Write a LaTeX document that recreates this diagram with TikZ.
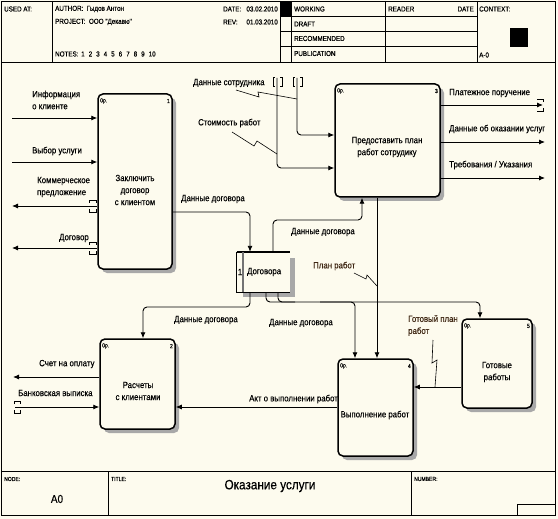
\documentclass[tikz,border=0pt]{standalone}
\usepackage{fontspec}
\setmainfont{Liberation Sans}
\newfontfamily\narfont[FakeStretch=0.87,FakeBold=0.35]{Liberation Sans}
\usetikzlibrary{arrows.meta}
\definecolor{bg}{HTML}{FDFBEE}
\definecolor{lbl}{HTML}{3E2612}
\definecolor{shd}{HTML}{A8A8A8}
\tikzset{
  lab/.style={font=\narfont\fontsize{9}{12}\selectfont, inner sep=0pt, anchor=west, align=left},
  boxtext/.style={font=\narfont\fontsize{9}{12}\selectfont, inner sep=0pt, align=center},
  hdr/.style={font=\narfont\fontsize{7.2}{8}\selectfont, inner sep=0pt, anchor=west},
  tinytxt/.style={font=\narfont\fontsize{5.8}{6}\selectfont, inner sep=0pt, anchor=west},
  func/.style={draw, line width=1.5pt, rounded corners=5pt, fill=bg, inner sep=0pt},
  shadow/.style={fill=shd, rounded corners=5pt},
  arr/.style={line width=0.9pt, -{Latex[length=6pt,width=5pt]}, rounded corners=4pt},
  ln/.style={line width=0.9pt, rounded corners=4pt},
  sq/.style={line width=0.6pt},
  frame/.style={line width=0.8pt},
  tun/.style={line width=0.6pt},
}
\begin{document}
\begin{tikzpicture}[x=1pt,y=-1pt]
\useasboundingbox (0,0) rectangle (558,519);
\fill[bg] (0,0) rectangle (558,519);
% ---------- frame ----------
\draw[frame] (1,1) rectangle (555,515);
% header
\draw[frame] (52,1) -- (52,62);
\draw[frame] (280,1) -- (280,62);
\fill (280,1) rectangle (291,16);
\draw[frame] (291,1) -- (291,62);
\draw[frame] (385,1) -- (385,62);
\draw[frame] (477,1) -- (477,62);
\draw[frame] (280,16) -- (477,16);
\draw[frame] (280,31) -- (477,31);
\draw[frame] (280,46) -- (477,46);
\draw[frame] (1,62) -- (555,62);
\fill (510,28) rectangle (528,47);
\node[hdr] (usedat) at (4,9) {USED AT:};
\node[hdr] (author) at (55,9) {AUTHOR:\ \ Гыдов Антон};
\node[hdr] (project) at (55,22) {PROJECT:\ \ ООО "Декавю"};
\node[hdr] (date) at (223,9) {DATE:};
\node[hdr, anchor=east] (dateval) at (278,9) {03.02.2010};
\node[hdr] (rev) at (223,22) {REV:};
\node[hdr, anchor=east] (revval) at (278,22) {01.03.2010};
\node[hdr] (notes) at (55,54) {NOTES:};
\foreach \i in {1,...,10} {\node[hdr, anchor=west] (note\i) at ({81+7.5*(\i-1)},54) {\i};}
\node[hdr] (working) at (294,9) {WORKING};
\node[hdr] (draft) at (294,24) {DRAFT};
\node[hdr] (recom) at (294,38.5) {RECOMMENDED};
\node[hdr] (publ) at (294,53.5) {PUBLICATION};
\node[hdr] (reader) at (388,9) {READER};
\node[hdr, anchor=east] (rdate) at (474,9) {DATE};
\node[hdr] (context) at (479,9) {CONTEXT:};
\node[hdr] (aminus) at (479,55) {A-0};
% footer
\draw[frame] (1,471) -- (555,471);
\draw[frame] (108,471) -- (108,515);
\draw[frame] (411,471) -- (411,515);
\draw[frame] (517,504) rectangle (555,515);
\node[tinytxt] (nodelbl) at (4,479) {NODE:};
\node[font=\narfont\fontsize{11.5}{12}\selectfont, inner sep=0pt] (nodeval) at (57,499) {A0};
\node[tinytxt] (titlelbl) at (111,479) {TITLE:};
\node[font=\narfont\fontsize{13.5}{14}\selectfont, inner sep=0pt] (title) at (270,486) {Оказание услуги};
\node[tinytxt] (numlbl) at (414,479) {NUMBER:};
% ---------- boxes ----------
% box 1
\fill[shadow] (102,98) rectangle (176,273);
\node[func, minimum width=74pt, minimum height=175pt] (b1) at (135,181.5) {};
\node[tinytxt] (b1op) at (100,101) {0р.};
\node[tinytxt, anchor=east] (b1n) at (170,101) {1};
\node[boxtext] (b1t) at (135,190) {Заключить\\договор\\с клиентом};
% box 3
\fill[shadow] (339,88) rectangle (444,201);
\node[func, minimum width=105pt, minimum height=113pt] (b3) at (387.5,140.5) {};
\node[tinytxt] (b3op) at (337,91) {0р.};
\node[tinytxt, anchor=east] (b3n) at (438,91) {3};
\node[boxtext] (b3t) at (387,147) {Предоставить план\\работ сотрудику};
% box 2
\fill[shadow] (104,343) rectangle (179,433);
\node[func, minimum width=75pt, minimum height=90pt] (b2) at (137.5,384) {};
\node[tinytxt] (b2op) at (102,346) {0р.};
\node[tinytxt, anchor=east] (b2n) at (173,346) {2};
\node[boxtext] (b2t) at (138,391) {Расчеты\\с клиентами};
% box 4
\fill[shadow] (342,363) rectangle (417,460);
\node[func, minimum width=75pt, minimum height=97pt] (b4) at (375.5,407.5) {};
\node[tinytxt] (b4op) at (340,366) {0р.};
\node[tinytxt, anchor=east] (b4n) at (411,366) {4};
\node[boxtext] (b4t) at (375,415) {Выполнение работ};
% box 5
\fill[shadow] (466,323) rectangle (536,412);
\node[func, minimum width=70pt, minimum height=89pt] (b5) at (497,363.5) {};
\node[tinytxt] (b5op) at (464,326) {0р.};
\node[tinytxt, anchor=east] (b5n) at (530,326) {5};
\node[boxtext] (b5t) at (497,372) {Готовые\\работы};
% data store "Договора"
\fill[shd] (290,258) rectangle (295,297);
\fill[shd] (243,292) rectangle (295,297);
\node[inner sep=0pt, minimum width=53pt, minimum height=40pt] (dg) at (263.5,272) {};
\draw[line width=1.6pt] (dg.north west) -- (dg.north east);
\draw[line width=0.8pt] (dg.north west) -- (dg.south west) -- (dg.south east);
\draw[line width=1.6pt, black!55] ([xshift=6pt]dg.north west) -- ([xshift=6pt]dg.south west);
\node[boxtext] (dgn) at (240,272) {1};
\node[lab] (dgt) at (247,272) {Договора};
% ---------- connectors ----------
% box 1 left side
\coordinate (s1) at (12,118);
\draw[arr] (s1) -- (s1 -| b1.west);
\coordinate (s2) at (12,162);
\draw[arr] (s2) -- (s2 -| b1.west);
\coordinate (e1) at (12,206);
\draw[arr] (e1 -| b1.west) -- (e1);
\draw[tun] (89,203) -- (89,200) -- (96,200) -- (96,203);
\draw[tun] (89,209) -- (89,212) -- (96,212) -- (96,209);
\coordinate (e2) at (12,248);
\draw[arr] (e2 -| b1.west) -- (e2);
\draw[tun] (89,245) -- (89,242) -- (96,242) -- (96,245);
\draw[tun] (89,251) -- (89,254) -- (96,254) -- (96,251);
\node[lab] (l1) at (32,100) {Информация\\о клиенте};
\node[lab] (l2) at (32,151) {Выбор услуги};
\node[lab] (l3) at (37,187) {Коммерческое\\предложение};
\node[lab] (l4) at (59,238) {Договор};
% box 1 -> store
\draw[arr] (b1.east |- 0,212) -| (dg.north -| 250,0);
\node[lab] (l5) at (181,199) {Данные договора};
% store -> box 3
\draw[arr] (dg.north -| 273,0) |- (320,220) -| (b3.south -| 362,0);
\node[lab] (l6) at (291,232) {Данные договора};
% store -> box 2
\draw[arr] (dg.south -| 250,0) |- (200,307) -| (b2.north -| 143,0);
\node[lab] (l7) at (174,320) {Данные договора};
% store -> box 4, box 5
\draw[arr] (dg.south -| 266,0) |- (320,302) -| (b5.north -| 480,0);
\draw[arr] (320,302) -| (b4.north -| 355,0);
\draw[ln] (dg.south -| 278,0) |- (295,302);
\node[lab] (l8) at (269,323) {Данные договора};
% box 3 -> box 4
\draw[arr] (b3.south -| 377,0) -- (b4.north -| 377,0);
\node[lab, text=lbl] (l9) at (313,266) {План работ};
\draw[sq] (354,273) -- (366,279) -- (367,275) -- (377,286);
% box 3 inputs
\coordinate (t1) at (277,78);
\coordinate (t2) at (297,78);
\draw[arr] (t2) |- (b3.west |- 0,135);
\draw[arr] (t1) |- (b3.west |- 0,168);
\draw[tun] (275,77) -- (273,77) -- (273,86) -- (275,86);
\draw[tun] (280,77) -- (282,77) -- (282,86) -- (280,86);
\draw[tun] (295,77) -- (293,77) -- (293,86) -- (295,86);
\draw[tun] (300,77) -- (302,77) -- (302,86) -- (300,86);
\node[lab] (l10) at (193,83) {Данные сотрудника};
\draw[sq] (236,90) -- (259,97) -- (258,92) -- (297,99);
\node[lab] (l11) at (198,123) {Стоимость работ};
\draw[sq] (232,132) -- (254,146) -- (257,141) -- (277,154);
% box 3 outputs
\coordinate (o1) at (543,105);
\draw[arr] (b3.east |- o1) -- (o1);
\draw[tun] (537,99) -- (543,99) -- (543,102);
\draw[tun] (537,111) -- (543,111) -- (543,108);
\coordinate (o2) at (545,142);
\draw[arr] (b3.east |- o2) -- (o2);
\coordinate (o3) at (545,178);
\draw[arr] (b3.east |- o3) -- (o3);
\node[lab] (l12) at (449,93) {Платежное поручение};
\node[lab] (l13) at (449,129) {Данные об оказании услуг};
\node[lab] (l14) at (449,165) {Требования / Указания};
% box 2 left side
\coordinate (e3) at (13,377);
\draw[arr] (b2.west |- e3) -- (e3);
\coordinate (s3) at (15,407);
\draw[arr] (s3) -- (s3 -| b2.west);
\draw[tun] (14,404) -- (14,401) -- (20,401) -- (20,404);
\draw[tun] (14,410) -- (14,413) -- (20,413) -- (20,410);
\node[lab] (l15) at (39,364) {Счет на оплату};
\node[lab] (l16) at (18,393) {Банковская выписка};
% box 4 -> box 2
\draw[arr] (b4.west |- 0,407) -- (b2.east |- 0,407);
\node[lab] (l17) at (249,399) {Акт о выполнении работ};
% box 5 -> box 4
\draw[arr] (b5.west |- 0,387) -- (b4.east |- 0,387);
\node[lab, text=lbl] (l18) at (408,325.5) {Готовый план\\работ};
\draw[sq] (433,340) -- (432,363) -- (437,360) -- (435,387);
\end{tikzpicture}
\end{document}
